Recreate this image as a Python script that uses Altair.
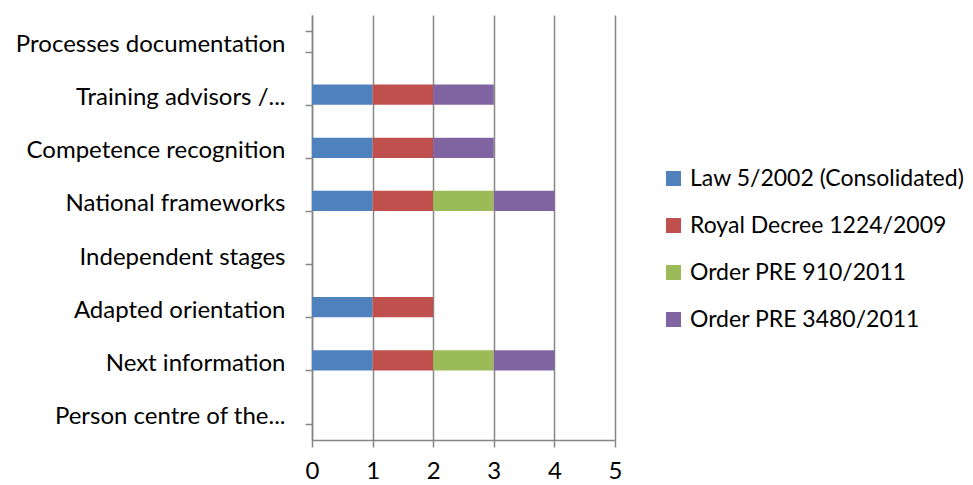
import altair as alt
import pandas as pd

categories = [
    "Processes documentation",
    "Training advisors /...",
    "Competence recognition",
    "National frameworks",
    "Independent stages",
    "Adapted orientation",
    "Next information",
    "Person centre of the...",
]
series = [
    "Law 5/2002 (Consolidated)",
    "Royal Decree 1224/2009",
    "Order PRE 910/2011",
    "Order PRE 3480/2011",
]
law_5_2002 = [0, 1, 1, 1, 0, 1, 1, 0]
royal_decree_1224 = [0, 1, 1, 1, 0, 1, 1, 0]
order_pre_910 = [0, 0, 0, 1, 0, 0, 1, 0]
order_pre_3480 = [0, 1, 1, 1, 0, 0, 1, 0]
colors = ["#4F81BD", "#C0504D", "#9BBB59", "#8064A2"]
x_ticks = [0, 1, 2, 3, 4, 5]

rows = []
for si, (name, vals) in enumerate(zip(series, [law_5_2002, royal_decree_1224, order_pre_910, order_pre_3480])):
    for c, v in zip(categories, vals):
        rows.append({"category": c, "series": name, "value": v, "order": si})
df = pd.DataFrame(rows)

FONT = "Lato"
GRID = "#868686"
FS = 24

chart = alt.Chart(df).mark_bar().encode(
    y=alt.Y("category:N", sort=categories, title=None,
            scale=alt.Scale(paddingInner=0.62, paddingOuter=0.31),
            axis=alt.Axis(tickBand="extent", labelFontSize=FS, labelFont=FONT,
                          labelColor="#000000", labelPadding=20, labelOffset=3,
                          tickSize=7, tickColor=GRID, domainColor=GRID, tickWidth=1.5,
                          domainWidth=1.5, grid=False, labelLimit=400)),
    x=alt.X("value:Q", stack="zero", title=None,
            scale=alt.Scale(domain=[0, 5], nice=False),
            axis=alt.Axis(values=x_ticks, format="d", labelFontSize=FS, labelFont=FONT,
                          labelColor="#000000", labelPadding=12, labelFlush=False,
                          tickSize=7, tickColor=GRID, domainColor=GRID, gridColor=GRID,
                          tickWidth=1.5, domainWidth=1.5, gridWidth=1.5, grid=True)),
    color=alt.Color("series:N", sort=series,
                    scale=alt.Scale(domain=series, range=colors),
                    legend=alt.Legend(title=None, orient="none", legendX=350, legendY=152,
                                      symbolType="square", symbolSize=225,
                                      symbolStrokeWidth=0, labelFontSize=23,
                                      labelFont=FONT, labelColor="#000000",
                                      rowPadding=23, labelOffset=5, labelLimit=400)),
    order=alt.Order("order:Q", sort="ascending"),
).properties(
    width=303,
    height=425,
    autosize=alt.AutoSizeParams(type="none"),
    padding={"left": 304, "top": 7, "right": 350, "bottom": 44},
).configure_view(stroke=None)

chart.save("out.html", embed_options={"renderer": "svg", "actions": False})
